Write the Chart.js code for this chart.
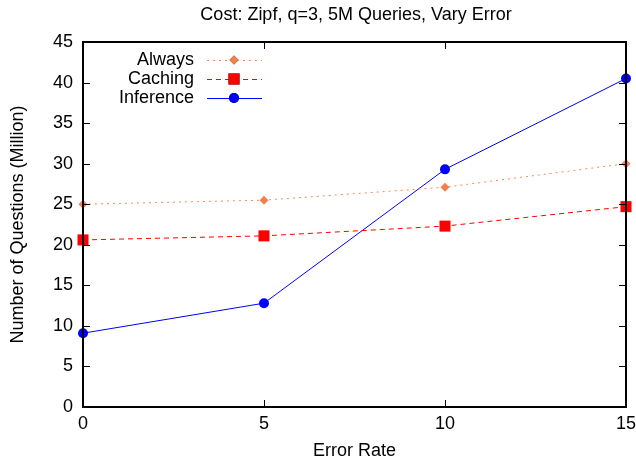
<!DOCTYPE html>
<html>
<head>
<meta charset="utf-8">
<script src="https://cdn.jsdelivr.net/npm/chart.js@4"></script>
<style>
  body { margin: 0; background: #fff; }
  #wrap { width: 636px; height: 466px; }
</style>
</head>
<body>
<div id="wrap"><canvas id="myChart" width="636" height="466"></canvas></div>
<script>
const errorRates = [0, 5, 10, 15];
const alwaysData = [25.0, 25.5, 27.1, 30.0];
const cachingData = [20.6, 21.1, 22.3, 24.7];
const inferenceData = [9.1, 12.8, 29.3, 40.5];
const xTicks = [0, 5, 10, 15];
const yTicks = [0, 5, 10, 15, 20, 25, 30, 35, 40, 45];

const FONT = "'Liberation Sans', Arial, sans-serif";

function pts(values) {
  return errorRates.map((x, i) => ({ x: x, y: values[i] }));
}

// frame, inward ticks (mirrored), title and the gnuplot-like key
const gnuplotLook = {
  id: "gnuplotLook",
  afterDatasetsDraw(chart) {
    const c = chart.ctx;
    const a = chart.chartArea;
    const xs = chart.scales.x;
    const ys = chart.scales.y;
    const len = 7;
    c.save();
    c.strokeStyle = "#000";
    c.lineWidth = 1;
    c.beginPath();
    yTicks.forEach(v => {
      const y = Math.round(ys.getPixelForValue(v)) + 0.5;
      c.moveTo(a.left, y); c.lineTo(a.left + len, y);
      c.moveTo(a.right, y); c.lineTo(a.right - len, y);
    });
    xTicks.forEach(v => {
      const x = Math.round(xs.getPixelForValue(v)) + 0.5;
      c.moveTo(x, a.bottom); c.lineTo(x, a.bottom - len);
      c.moveTo(x, a.top); c.lineTo(x, a.top + len);
    });
    c.stroke();
    c.lineWidth = 2;
    c.strokeRect(a.left, a.top, a.right - a.left, a.bottom - a.top);

    c.fillStyle = "#000";
    c.font = "18px " + FONT;
    c.textAlign = "center";
    c.textBaseline = "middle";
    c.fillText("Cost: Zipf, q=3, 5M Queries, Vary Error", 356, 15);

    // key
    c.textAlign = "right";
    chart.data.datasets.forEach((ds, i) => {
      const y = 60 + i * 19;
      c.fillStyle = "#000";
      c.fillText(ds.label, 194, y);
      c.strokeStyle = ds.borderColor;
      c.lineWidth = 1;
      c.setLineDash(ds.borderDash || []);
      c.beginPath();
      c.moveTo(207, y + 0.5); c.lineTo(262, y + 0.5);
      c.stroke();
      c.setLineDash([]);
      Chart.helpers.drawPoint(c, {
        pointStyle: ds.pointStyle, radius: ds.pointRadius, rotation: 0, borderWidth: 0
      }, 234, y);
      c.fillStyle = ds.pointBackgroundColor;
      c.fill();
    });
    c.restore();
  }
};

const ctx = document.getElementById("myChart").getContext("2d");
const chart = new Chart(ctx, {
  type: "line",
  data: {
    datasets: [
      {
        label: "Always",
        data: pts(alwaysData),
        borderColor: "#f58a55",
        borderWidth: 1,
        borderDash: [2, 4],
        pointStyle: "rectRot",
        pointRadius: 4.5,
        pointBackgroundColor: "#f4804c",
        pointBorderWidth: 0,
        clip: false
      },
      {
        label: "Caching",
        data: pts(cachingData),
        borderColor: "#ff0000",
        borderWidth: 1,
        borderDash: [5, 4],
        pointStyle: "rect",
        pointRadius: 7.8,
        pointBackgroundColor: "#ff0000",
        pointBorderWidth: 0,
        clip: false
      },
      {
        label: "Inference",
        data: pts(inferenceData),
        borderColor: "#0000ff",
        borderWidth: 1,
        pointStyle: "circle",
        pointRadius: 5,
        pointBackgroundColor: "#0000ff",
        pointBorderWidth: 0,
        clip: false
      }
    ]
  },
  options: {
    responsive: false,
    animation: false,
    layout: { padding: { left: 0, right: 10, top: 42, bottom: 0 } },
    plugins: {
      legend: { display: false },
      title: { display: false },
      tooltip: { enabled: false }
    },
    scales: {
      x: {
        type: "linear",
        min: 0,
        max: 15,
        afterFit(s) { s.height = 59; s.paddingLeft = 0; s.paddingRight = 0; },
        afterBuildTicks(s) { s.ticks = xTicks.map(v => ({ value: v })); },
        grid: { display: false, drawTicks: false },
        border: { display: false },
        ticks: { color: "#000", font: { family: FONT, size: 18 }, padding: 6, maxRotation: 0 },
        title: { display: true, text: "Error Rate", color: "#000", font: { family: FONT, size: 18 }, padding: { top: 4, bottom: 4 } }
      },
      y: {
        min: 0,
        max: 45,
        afterFit(s) { s.width = 83; s.paddingTop = 0; s.paddingBottom = 0; },
        afterBuildTicks(s) { s.ticks = yTicks.map(v => ({ value: v })); },
        grid: { display: false, drawTicks: false },
        border: { display: false },
        ticks: { color: "#000", font: { family: FONT, size: 18 }, padding: 10 },
        title: { display: true, text: "Number of Questions (Million)", color: "#000", font: { family: FONT, size: 18 }, padding: { top: 7, bottom: 4 } }
      }
    }
  },
  plugins: [gnuplotLook]
});
</script>
</body>
</html>
